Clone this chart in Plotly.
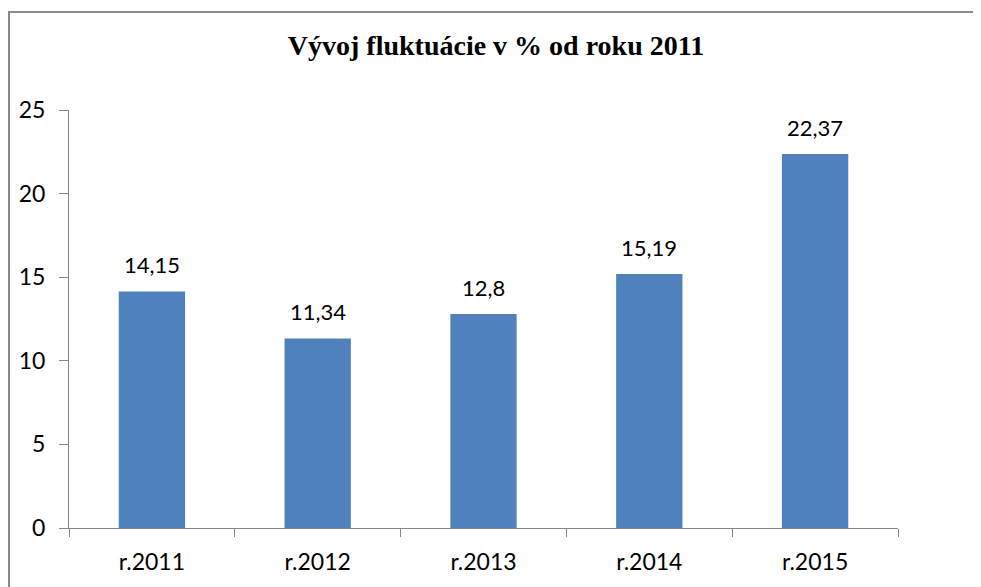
import plotly.graph_objects as go

categories = ["r.2011", "r.2012", "r.2013", "r.2014", "r.2015"]
values = [14.15, 11.34, 12.8, 15.19, 22.37]
labels = ["14,15", "11,34", "12,8", "15,19", "22,37"]
y_ticks = [0, 5, 10, 15, 20, 25]

# page body has an 8px margin; figure coordinates = screen - 8
W, H = 973, 579
L, R, T, B = 61, 83, 102, 59
pw = W - L - R
ph = H - T - B

fig = go.Figure()
fig.add_trace(go.Bar(
    x=categories, y=values, marker_color="#4F81BD", width=0.4,
    marker_line_width=0, hoverinfo="skip",
))
for c, v, t in zip(categories, values, labels):
    fig.add_annotation(x=c, y=v, text=t, showarrow=False, yanchor="bottom",
                       yshift=11, font=dict(family="Lato", size=22, color="#000000"))

# chart outer border (extends past the right and bottom edges)
fig.add_shape(type="rect", xref="paper", yref="paper",
              x0=(1 - L) / pw, x1=(W + 30 - L) / pw,
              y0=-(H + 30 - T - ph) / ph, y1=(H - B - 4) / ph,
              line=dict(color="#898989", width=2), fillcolor="rgba(0,0,0,0)", layer="below")

fig.update_layout(
    width=W, height=H,
    margin=dict(l=L, r=R, t=T, b=B),
    paper_bgcolor="white", plot_bgcolor="white",
    showlegend=False,
    title=dict(text="<b>Vývoj fluktuácie v % od roku 2011</b>", x=488 / W, xanchor="center",
               y=1 - 37 / H, yanchor="middle",
               font=dict(family="Liberation Serif", size=28, color="#000000")),
    bargap=0.6,
    xaxis=dict(type="category", showgrid=False, showline=True, linecolor="#868686", linewidth=1,
               ticks="outside", tickson="boundaries", ticklen=8, tickcolor="#868686",
               tickfont=dict(family="Lato", size=23, color="#000000"), ticklabelstandoff=13),
    yaxis=dict(range=[0, 25], tickvals=y_ticks, showgrid=False, zeroline=False, showline=True,
               linecolor="#868686", linewidth=1, ticks="outside", ticklen=9, tickcolor="#868686",
               tickfont=dict(family="Lato", size=23, color="#000000"), ticklabelstandoff=9),
)
fig.write_html("out.html")
